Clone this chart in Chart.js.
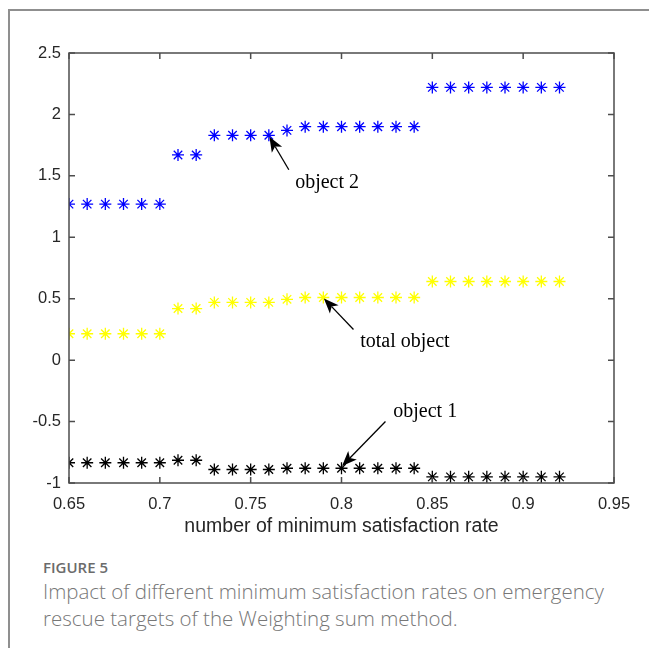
<!DOCTYPE html>
<html>
<head>
<meta charset="utf-8">
<script src="https://cdn.jsdelivr.net/npm/chart.js@4.4.1/dist/chart.umd.min.js"></script>
<style>
  html, body { margin: 0; padding: 0; background: #fff; }
  body { width: 649px; height: 648px; position: relative; overflow: hidden; }
  .frame {
    position: absolute; left: 8px; top: 9px; width: 720px; height: 720px;
    border-left: 2px solid #8f8f8f; border-top: 2px solid #8f8f8f;
  }
  #chartCanvas { position: absolute; left: 0; top: 0; }
  .fig-label {
    position: absolute; left: 43px; top: 557px;
    font: 600 15px "Open Sans", sans-serif; color: #6b6b6b;
  }
  .fig-caption {
    position: absolute; left: 43px; top: 578px; width: 595px;
    font: 300 20.5px/27px "Open Sans", sans-serif; color: #777;
  }
</style>
</head>
<body>
<div class="frame"></div>
<canvas id="chartCanvas" width="649" height="548"></canvas>
<div class="fig-label">FIGURE 5</div>
<div class="fig-caption">Impact of different minimum satisfaction rates on emergency rescue targets of the Weighting sum method.</div>
<script>
// minimum satisfaction rate (x)
const rates = [0.65, 0.66, 0.67, 0.68, 0.69, 0.70, 0.71, 0.72, 0.73, 0.74,
  0.75, 0.76, 0.77, 0.78, 0.79, 0.80, 0.81, 0.82, 0.83, 0.84,
  0.85, 0.86, 0.87, 0.88, 0.89, 0.90, 0.91, 0.92];

const object2 = [1.27, 1.27, 1.27, 1.27, 1.27, 1.27, 1.67, 1.67, 1.83, 1.83,
  1.83, 1.83, 1.87, 1.90, 1.90, 1.90, 1.90, 1.90, 1.90, 1.90,
  2.22, 2.22, 2.22, 2.22, 2.22, 2.22, 2.22, 2.22];

const totalObject = [0.215, 0.215, 0.215, 0.215, 0.215, 0.215, 0.42, 0.42, 0.47, 0.47,
  0.47, 0.47, 0.495, 0.51, 0.51, 0.51, 0.51, 0.51, 0.51, 0.51,
  0.64, 0.64, 0.64, 0.64, 0.64, 0.64, 0.64, 0.64];

const object1 = [-0.835, -0.835, -0.835, -0.835, -0.835, -0.835, -0.815, -0.815, -0.89, -0.89,
  -0.89, -0.89, -0.88, -0.88, -0.88, -0.88, -0.88, -0.88, -0.88, -0.88,
  -0.95, -0.95, -0.95, -0.95, -0.95, -0.95, -0.95, -0.95];

const xTicks = [0.65, 0.7, 0.75, 0.8, 0.85, 0.9, 0.95];
const xTickLabels = ["0.65", "0.7", "0.75", "0.8", "0.85", "0.9", "0.95"];
const yTicks = [-1, -0.5, 0, 0.5, 1, 1.5, 2, 2.5];
const yTickLabels = ["-1", "-0.5", "0", "0.5", "1", "1.5", "2", "2.5"];

// arrow annotations in data units: arrow tip, arrow tail, text left/middle
const notes = [
  { text: "object 2", tip: [0.7603, 1.818], tail: [0.771, 1.55], at: [0.7745, 1.445] },
  { text: "total object", tip: [0.7903, 0.502], tail: [0.8066, 0.25], at: [0.8103, 0.152] },
  { text: "object 1", tip: [0.8003, -0.862], tail: [0.8242, -0.5], at: [0.8285, -0.424] }
];

const toPoints = (ys) => rates.map((x, i) => ({ x: x, y: ys[i] }));

const starSet = (label, ys, color) => ({
  label: label,
  data: toPoints(ys),
  showLine: false,
  pointStyle: "star",
  pointRadius: 6,
  pointBorderWidth: 1.3,
  borderColor: color,
  backgroundColor: color,
  pointHoverRadius: 6
});

const axisColor = "#262626";

// box + inward ticks like the matlab axes
const boxPlugin = {
  id: "box",
  afterDatasetsDraw(chart) {
    const c = chart.ctx;
    const a = chart.chartArea;
    const xs = chart.scales.x;
    const ys = chart.scales.y;
    const len = 6;
    c.save();
    c.strokeStyle = "#4d4d4d";
    c.lineWidth = 1.5;
    c.strokeRect(a.left, a.top, a.right - a.left, a.bottom - a.top);
    c.beginPath();
    xTicks.forEach((v) => {
      const px = xs.getPixelForValue(v);
      c.moveTo(px, a.bottom); c.lineTo(px, a.bottom - len);
      c.moveTo(px, a.top); c.lineTo(px, a.top + len);
    });
    yTicks.forEach((v) => {
      const py = ys.getPixelForValue(v);
      c.moveTo(a.left, py); c.lineTo(a.left + len, py);
      c.moveTo(a.right, py); c.lineTo(a.right - len, py);
    });
    c.stroke();
    c.restore();
  },
  afterDraw(chart) {
    const c = chart.ctx;
    const xs = chart.scales.x;
    const ys = chart.scales.y;
    c.save();
    c.strokeStyle = "#000";
    c.fillStyle = "#000";
    c.lineWidth = 1.3;
    notes.forEach((n) => {
      const tx = xs.getPixelForValue(n.tip[0]);
      const ty = ys.getPixelForValue(n.tip[1]);
      const sx = xs.getPixelForValue(n.tail[0]);
      const sy = ys.getPixelForValue(n.tail[1]);
      const ang = Math.atan2(ty - sy, tx - sx);
      const headLen = 15;
      const headW = 6;
      const bx = tx - Math.cos(ang) * headLen;
      const by = ty - Math.sin(ang) * headLen;
      const nx = tx - Math.cos(ang) * headLen * 0.75;
      const ny = ty - Math.sin(ang) * headLen * 0.75;
      c.beginPath();
      c.moveTo(sx, sy);
      c.lineTo(nx, ny);
      c.stroke();
      c.beginPath();
      c.moveTo(tx, ty);
      c.lineTo(bx - Math.sin(ang) * headW, by + Math.cos(ang) * headW);
      c.lineTo(nx, ny);
      c.lineTo(bx + Math.sin(ang) * headW, by - Math.cos(ang) * headW);
      c.closePath();
      c.fill();
      c.font = '20px "Liberation Serif", "Times New Roman", serif';
      c.textBaseline = "middle";
      c.textAlign = "left";
      c.fillText(n.text, xs.getPixelForValue(n.at[0]), ys.getPixelForValue(n.at[1]));
    });
    c.restore();
  }
};

const ctx = document.getElementById("chartCanvas").getContext("2d");

new Chart(ctx, {
  type: "scatter",
  data: {
    datasets: [
      starSet("object 2", object2, "#0000ff"),
      starSet("total object", totalObject, "#ffff00"),
      starSet("object 1", object1, "#000000")
    ]
  },
  options: {
    responsive: false,
    animation: false,
    events: [],
    layout: { padding: { left: 0, top: 53, right: 35, bottom: 0 } },
    plugins: { legend: { display: false }, tooltip: { enabled: false } },
    scales: {
      x: {
        type: "linear",
        min: 0.65,
        max: 0.95,
        afterBuildTicks: (scale) => { scale.ticks = xTicks.map((v) => ({ value: v })); },
        afterFit: (scale) => { scale.height = 65; },
        grid: { display: false, drawTicks: false },
        border: { display: false },
        ticks: {
          padding: 12,
          color: axisColor,
          maxRotation: 0,
          autoSkip: false,
          font: { family: '"Liberation Sans", Arial, sans-serif', size: 16.5 },
          callback: (v, i) => xTickLabels[i]
        },
        title: {
          display: true,
          text: "number of minimum satisfaction rate",
          color: axisColor,
          font: { family: '"Liberation Sans", Arial, sans-serif', size: 19.5 },
          padding: { top: 0, bottom: 10 }
        }
      },
      y: {
        type: "linear",
        min: -1,
        max: 2.5,
        afterBuildTicks: (scale) => { scale.ticks = yTicks.map((v) => ({ value: v })); },
        afterFit: (scale) => { scale.width = 69; },
        grid: { display: false, drawTicks: false },
        border: { display: false },
        ticks: {
          padding: 8,
          color: axisColor,
          autoSkip: false,
          font: { family: '"Liberation Sans", Arial, sans-serif', size: 16.5 },
          callback: (v, i) => yTickLabels[i]
        }
      }
    }
  },
  plugins: [boxPlugin]
});
</script>
</body>
</html>
